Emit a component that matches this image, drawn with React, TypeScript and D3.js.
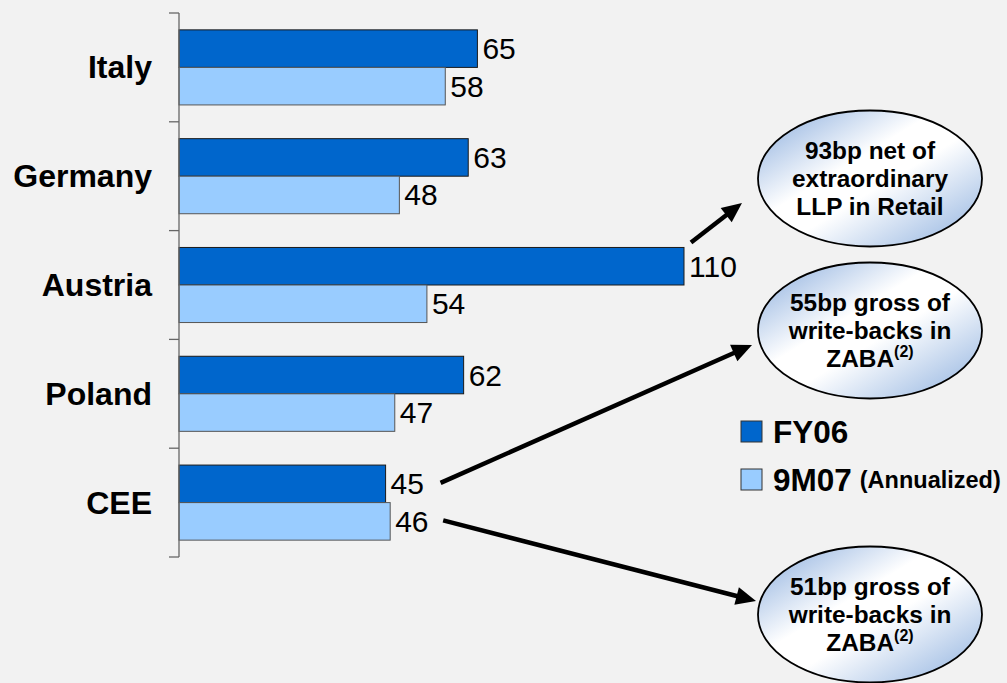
import React from "react";
import * as d3 from "d3";

const categories = ["Italy", "Germany", "Austria", "Poland", "CEE"];
const fy06 = [65, 63, 110, 62, 45];
const m907 = [58, 48, 54, 47, 46];
const seriesNames = ["FY06", "9M07"];
const seriesNote = ["", "(Annualized)"];
const noteLines = [
  ["93bp net of", "extraordinary", "LLP in Retail"],
  ["55bp gross of", "write-backs in", "ZABA"],
  ["51bp gross of", "write-backs in", "ZABA"],
];
const noteSup = ["", "(2)", "(2)"];

const W = 1007;
const H = 683;
const DARK = "#0066cc";
const LIGHT = "#99ccff";
const FONT = "'Liberation Sans', Arial, Helvetica, sans-serif";

function Arrow({ x1, y1, x2, y2 }: { x1: number; y1: number; x2: number; y2: number }) {
  const ang = Math.atan2(y2 - y1, x2 - x1);
  const L = 20;
  const hw = 9;
  const bx = x2 - L * Math.cos(ang);
  const by = y2 - L * Math.sin(ang);
  const px = -Math.sin(ang) * hw;
  const py = Math.cos(ang) * hw;
  const pts = `${x2},${y2} ${bx + px},${by + py} ${bx - px},${by - py}`;
  return (
    <g>
      <line x1={x1} y1={y1} x2={bx + 2 * Math.cos(ang)} y2={by + 2 * Math.sin(ang)} stroke="#000" strokeWidth={4.5} />
      <polygon points={pts} fill="#000" />
    </g>
  );
}

export default function App() {
  const y = d3
    .scaleBand<string>()
    .domain(categories)
    .range([13, 557])
    .paddingInner(0.31)
    .paddingOuter(0.155);
  const inner = d3.scaleBand<string>().domain(seriesNames).range([0, y.bandwidth()]).padding(0);
  const x = d3.scaleLinear().domain([0, 110]).range([179, 684]);
  const step = y.step();
  const series = [fy06, m907];
  const colors = [DARK, LIGHT];
  const strokes = ["#1a1a1a", "#555"];

  const ticks = d3.range(categories.length + 1).map((i) => 13 + i * step);

  const barY = (ci: number, si: number) => (y(categories[ci]) as number) + (inner(seriesNames[si]) as number);
  const bh = inner.bandwidth();

  const ellipses = [
    { cx: 870, cy: 178.5 },
    { cx: 870, cy: 330.5 },
    { cx: 870, cy: 614.5 },
  ];
  const rx = 112;
  const ry = 68;

  const austria = categories.indexOf("Austria");
  const cee = categories.indexOf("CEE");
  const arrows = [
    { x1: x(fy06[austria]) + 7, y1: barY(austria, 0) - 5, x2: 742, y2: 203 },
    { x1: x(fy06[cee]) + 55, y1: barY(cee, 0) + bh / 2 - 1, x2: 752, y2: 345 },
    { x1: x(m907[cee]) + 53, y1: barY(cee, 1) + bh / 2 - 1, x2: 756, y2: 601 },
  ];

  return (
    <svg
      width={W}
      height={H}
      viewBox={`0 0 ${W} ${H}`}
      style={{ position: "fixed", left: 0, top: 0, background: "#f2f2f2" }}
      fontFamily={FONT}
    >
      <defs>
        <linearGradient id="ellGrad" x1="0" y1="0" x2="1" y2="1">
          <stop offset="0%" stopColor="#86aadc" />
          <stop offset="40%" stopColor="#ffffff" />
          <stop offset="55%" stopColor="#ffffff" />
          <stop offset="100%" stopColor="#8cafde" />
        </linearGradient>
      </defs>
      <rect x={0} y={0} width={W} height={H} fill="#f2f2f2" />

      {/* bars */}
      {categories.map((c, ci) =>
        series.map((s, si) => (
          <rect
            key={`${c}-${si}`}
            x={x(0)}
            y={barY(ci, si)}
            width={x(s[ci]) - x(0)}
            height={bh}
            fill={colors[si]}
            stroke={strokes[si]}
            strokeWidth={1}
          />
        ))
      )}

      {/* axis */}
      <line x1={179} y1={ticks[0]} x2={179} y2={ticks[ticks.length - 1]} stroke="#666" strokeWidth={1.3} />
      {ticks.map((t, i) => (
        <line key={i} x1={169} y1={t} x2={179} y2={t} stroke="#666" strokeWidth={1.3} />
      ))}

      {/* category labels */}
      {categories.map((c) => (
        <text
          key={c}
          x={152}
          y={(y(c) as number) + y.bandwidth() / 2 + 11}
          textAnchor="end"
          fontSize={32}
          fontWeight="bold"
          fill="#000"
        >
          {c}
        </text>
      ))}

      {/* value labels */}
      {categories.map((c, ci) =>
        series.map((s, si) => (
          <text
            key={`v-${c}-${si}`}
            x={x(s[ci]) + 5}
            y={barY(ci, si) + bh / 2 + 10.5}
            fontSize={30}
            fill="#000"
          >
            {s[ci]}
          </text>
        ))
      )}

      {/* arrows */}
      {arrows.map((a, i) => (
        <Arrow key={i} {...a} />
      ))}

      {/* ellipses */}
      {ellipses.map((e, i) => (
        <g key={i}>
          <ellipse cx={e.cx} cy={e.cy} rx={rx} ry={ry} fill="url(#ellGrad)" stroke="#000" strokeWidth={1.8} />
          <text textAnchor="middle" fontSize={24.4} fontWeight="bold" fill="#000">
            {noteLines[i].map((line, li) => (
              <tspan key={li} x={e.cx} y={e.cy - 19.5 + li * 28}>
                {line}
                {li === noteLines[i].length - 1 && noteSup[i] ? (
                  <tspan fontSize={16} dy={-10}>
                    {noteSup[i]}
                  </tspan>
                ) : null}
              </tspan>
            ))}
          </text>
        </g>
      ))}

      {/* legend */}
      {seriesNames.map((n, i) => (
        <g key={n}>
          <rect x={741} y={421 + i * 48} width={21} height={21} fill={colors[i]} stroke="#333" strokeWidth={1} />
          <text x={773} y={443 + i * 48} fontSize={31.5} fontWeight="bold" fill="#000">
            {n}
            {seriesNote[i] ? (
              <tspan fontSize={23.5} dx={8} dy={-3}>
                {seriesNote[i]}
              </tspan>
            ) : null}
          </text>
        </g>
      ))}
    </svg>
  );
}
